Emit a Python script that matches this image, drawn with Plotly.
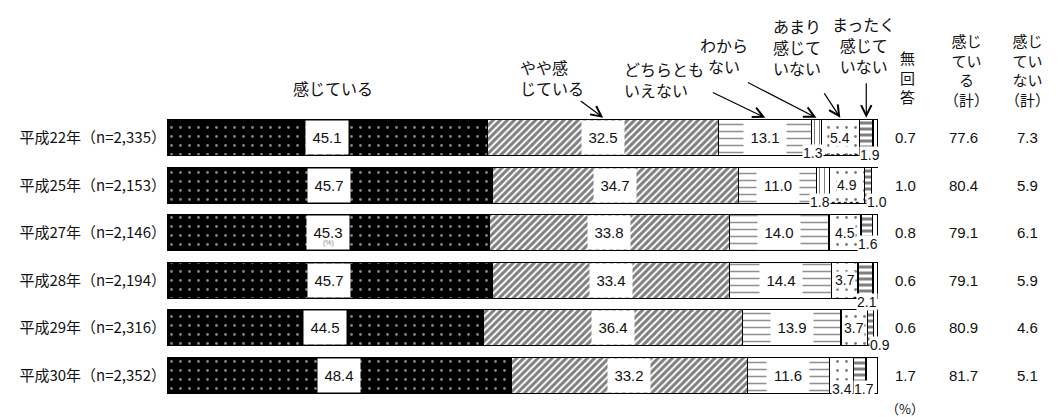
import plotly.graph_objects as go

# ----------------------------- データ -----------------------------
years = ["平成22年（n=2,335）", "平成25年（n=2,153）", "平成27年（n=2,146）",
         "平成28年（n=2,194）", "平成29年（n=2,316）", "平成30年（n=2,352）"]

kanjiteiru = [45.1, 45.7, 45.3, 45.7, 44.5, 48.4]
yaya_kanjiteiru = [32.5, 34.7, 33.8, 33.4, 36.4, 33.2]
dochira_tomo = [13.1, 11.0, 14.0, 14.4, 13.9, 11.6]
wakaranai = [1.3, 1.8, None, None, None, None]
amari = [5.4, 4.9, 4.5, 3.7, 3.7, 3.4]
mattaku = [1.9, 1.0, 1.6, 2.1, 0.9, 1.7]
mukaitou = [0.7, 1.0, 0.8, 0.6, 0.6, 1.7]

kei_kanjiteiru = [77.6, 80.4, 79.1, 79.1, 80.9, 81.7]
kei_kanjiteinai = [7.3, 5.9, 6.1, 5.9, 4.6, 5.1]

NUM_FONT = "Liberation Sans, Arial, Noto Sans CJK JP"
JP_FONT = "Noto Sans CJK JP"

series = [
    ("感じている", kanjiteiru,
     dict(shape=".", fgcolor="white", bgcolor="black", size=9, solidity=0.08), "black"),
    ("やや感じている", yaya_kanjiteiru,
     dict(shape="/", fgcolor="black", bgcolor="white", size=5, solidity=0.6), "white"),
    ("どちらともいえない", dochira_tomo,
     dict(shape="-", fgcolor="#222", bgcolor="white", size=7, solidity=0.22), "white"),
    ("わからない", wakaranai,
     dict(shape="|", fgcolor="black", bgcolor="white", size=5, solidity=0.2), "white"),
    ("あまり感じていない", amari,
     dict(shape=".", fgcolor="black", bgcolor="white", size=9, solidity=0.08), "white"),
    ("まったく感じていない", mattaku,
     dict(shape="-", fgcolor="black", bgcolor="white", size=6, solidity=0.5), "white"),
    ("無回答", mukaitou, None, "white"),
]

# 各セグメントの開始位置
starts = []
run = [0.0] * len(years)
for _, vals, _, _ in series:
    starts.append(run[:])
    run = [r + (v or 0) for r, v in zip(run, vals)]


def mid(s, i):
    return starts[s][i] + series[s][1][i] / 2


def cat_to_paper(c):
    # y軸（カテゴリ番号, 範囲 -0.5〜5.5 反転）→ paper座標
    return 1 - (c + 0.5) / 6


fig = go.Figure()

for name, vals, pat, col in series:
    marker = dict(color=col, line=dict(color="black", width=1.2))
    if pat:
        marker["pattern"] = pat
    fig.add_trace(go.Bar(
        y=years, x=vals, name=name, orientation="h",
        marker=marker, width=0.76, showlegend=False
    ))

ann = []

# バー内の数値（白抜きボックス）
for s in (0, 1, 2):
    for i in range(len(years)):
        ann.append(dict(x=mid(s, i), y=i, text=f"{series[s][1][i]:.1f}", showarrow=False,
                        bgcolor="white", width=42, height=33, borderpad=0,
                        font=dict(family=NUM_FONT, size=15, color="#111")))

for i in range(5):
    ann.append(dict(x=mid(4, i), y=i, text=f"{amari[i]:.1f}", showarrow=False,
                    bgcolor="white", borderpad=0,
                    font=dict(family=NUM_FONT, size=14, color="#111")))

# 小さい値（バーの下側）
small = [(0, 3, -4, -15), (0, 5, 4, -17), (1, 3, -3, -17), (1, 5, 9, -17),
         (2, 5, 1, -11), (3, 5, 1, -22), (4, 5, 9, -17), (5, 4, 0, -14), (5, 5, 4, -14)]
for i, s, dx, dy in small:
    ann.append(dict(x=mid(s, i), y=i, text=f"{series[s][1][i]:.1f}", showarrow=False,
                    xshift=dx, yshift=dy, bgcolor="white", borderpad=0,
                    font=dict(family=NUM_FONT, size=14, color="#111")))

shapes = []
for i, a, b in [(0, 3, 5), (1, 3, 5), (3, 4, 5)]:
    shapes.append(dict(type="line", xref="x", yref="y",
                       x0=mid(a, i) + 1.2, x1=mid(b, i) - 1.1, y0=i + 0.36, y1=i + 0.36,
                       line=dict(color="black", width=1, dash="dot")))

# 右側の列
for i in range(len(years)):
    for xp, vals in ((1.038, mukaitou), (1.120, kei_kanjiteiru), (1.210, kei_kanjiteinai)):
        ann.append(dict(x=xp, xref="paper", y=i, text=f"{vals[i]:.1f}", showarrow=False,
                        xanchor="center", yanchor="middle",
                        font=dict(family=NUM_FONT, size=15, color="#111")))

headers = [
    ("無<br>回<br>答", 1.041, -1.28),
    ("感じ<br>てい<br>る<br>（計）", 1.125, -1.43),
    ("感じ<br>てい<br>ない<br>（計）", 1.210, -1.43),
]
for t, x, y in headers:
    ann.append(dict(x=x, xref="paper", y=cat_to_paper(y), yref="paper", text=t,
                    showarrow=False, xanchor="center", yanchor="middle",
                    font=dict(family=JP_FONT, size=15, color="#111")))

# 上部のカテゴリ名
top_labels = [
    ("感じている", 0.234, -1.05, "center", "center"),
    ("やや感<br>じている", 0.541, -1.27, "center", "left"),
    ("どちらとも<br>いえない", 0.640, -1.23, "left", "left"),
    ("わから<br>ない", 0.783, -1.73, "center", "center"),
    ("あまり<br>感じて<br>いない", 0.886, -1.90, "center", "center"),
    ("まったく<br>感じて<br>いない", 0.979, -1.96, "center", "center"),
]
for t, x, y, xa, al in top_labels:
    ann.append(dict(x=x, xref="paper", y=cat_to_paper(y), yref="paper", text=t,
                    showarrow=False, xanchor=xa, yanchor="middle", align=al,
                    font=dict(family=JP_FONT, size=16, color="#111")))

# 矢印（1行目のセグメントへ）
for s, ax, ay in [(1, -24, -18), (2, -54, -26), (3, -70, -36), (4, -17, -26), (5, 0, -36)]:
    ann.append(dict(x=mid(s, 0), y=-0.42, text="", showarrow=True, ax=ax, ay=ay,
                    arrowhead=5, arrowsize=1.7, arrowwidth=1.2, arrowcolor="black"))

ann.append(dict(x=1.038, xref="paper", y=cat_to_paper(5.7), yref="paper", text="（%）",
                showarrow=False, xanchor="center", yanchor="middle",
                font=dict(family=JP_FONT, size=13, color="#111")))
ann.append(dict(x=mid(0, 2), y=2.22, text="(%)", showarrow=False,
                font=dict(family=NUM_FONT, size=7, color="#888")))

fig.update_layout(
    barmode="stack",
    width=1051,
    height=409,
    margin=dict(l=159, r=181, t=106, b=18),
    plot_bgcolor="white",
    paper_bgcolor="white",
    annotations=ann,
    shapes=shapes,
    xaxis=dict(range=[0, 100], autorange=False, visible=False, fixedrange=True),
    yaxis=dict(range=[5.5, -0.5], autorange=False, showgrid=False, zeroline=False,
               showline=False, ticks="", fixedrange=True,
               tickfont=dict(family=JP_FONT, size=15, color="#111")),
)

fig.write_html("out.html")
